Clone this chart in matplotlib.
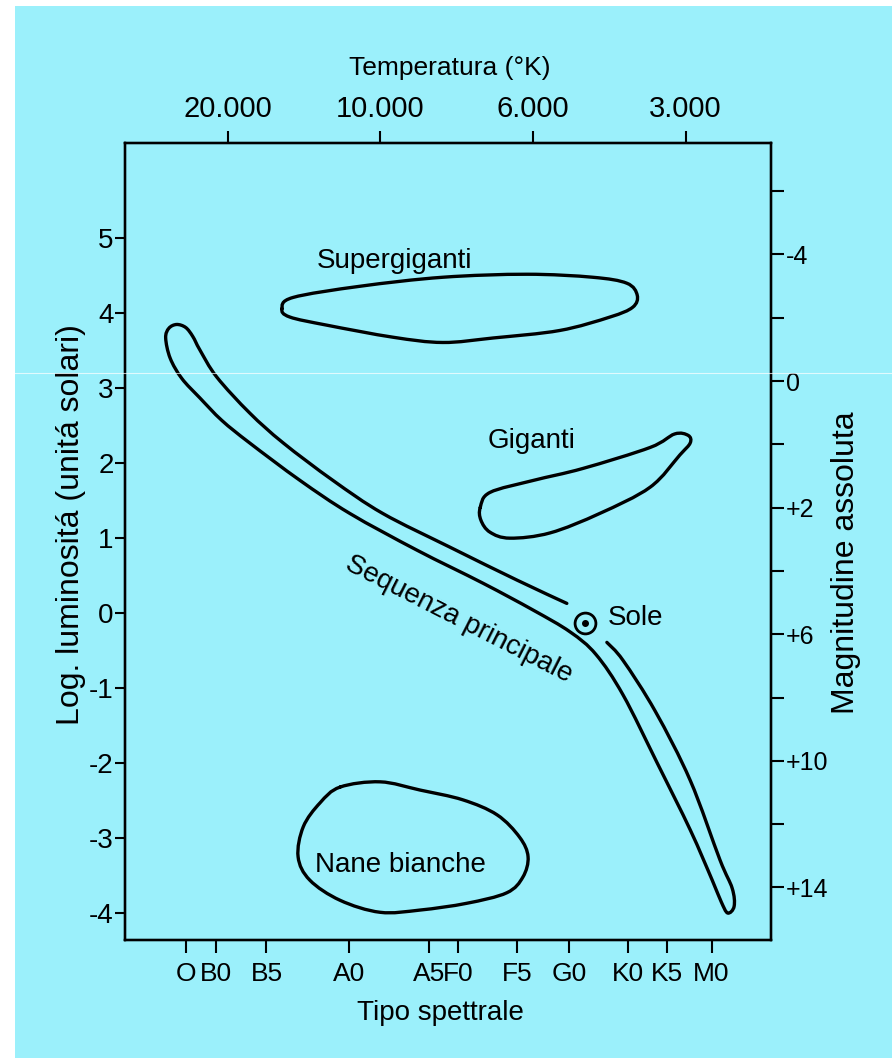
import numpy as np
import matplotlib.pyplot as plt
from matplotlib.path import Path
from matplotlib.patches import PathPatch, Rectangle
from matplotlib.lines import Line2D

plt.rcParams['font.family'] = ['Liberation Sans', 'DejaVu Sans']

# axes: x = position along the spectral sequence (0..10), y = log L (solar units)
spec_labels = ['O', 'B0', 'B5', 'A0', 'A5', 'F0', 'F5', 'G0', 'K0', 'K5', 'M0']
spec_pos = [0.94, 1.41, 2.19, 3.47, 4.71, 5.16, 6.07, 6.88, 7.78, 8.39, 9.08]

temp_labels = ['20.000', '10.000', '6.000', '3.000']
temp_pos = [1.59, 3.95, 6.32, 8.68]

lum_ticks = [5, 4, 3, 2, 1, 0, -1, -2, -3, -4]
lum_labels = ['5', '4', '3', '2', '1', '0', '-1', '-2', '-3', '-4']

# right axis (absolute magnitude), drawn on its own uniform scale
mag_major = [-4, 0, 4, 8, 12, 16]
mag_labels = ['-4', '0', '+2', '+6', '+10', '+14']
mag_minor = [-6, -2, 2, 6, 10, 14]

# outlines
super_x = [2.43, 2.60, 3.64, 4.92, 6.22, 7.24, 7.77, 7.93, 7.86, 7.51, 6.73, 5.70, 4.92, 4.15, 3.13, 2.55]
super_y = [4.06, 4.21, 4.36, 4.48, 4.52, 4.48, 4.40, 4.24, 4.08, 3.95, 3.77, 3.67, 3.61, 3.68, 3.84, 3.95]

giant_x = [5.50, 5.65, 6.32, 7.09, 8.13, 8.51, 8.72, 8.75, 8.59, 8.13, 7.35, 6.58, 5.96, 5.65, 5.51]
giant_y = [1.41, 1.61, 1.77, 1.93, 2.21, 2.39, 2.37, 2.27, 2.11, 1.68, 1.33, 1.07, 1.00, 1.08, 1.24]

dwarf_x = [3.33, 3.95, 4.57, 5.23, 5.76, 6.11, 6.24, 6.16, 5.91, 5.29, 4.57, 3.95, 3.33, 2.86, 2.68, 2.76, 3.02]
dwarf_y = [-2.32, -2.25, -2.36, -2.49, -2.69, -2.99, -3.25, -3.52, -3.73, -3.87, -3.96, -3.99, -3.83, -3.56, -3.25, -2.85, -2.53]

ms_x = [6.84, 6.07, 5.03, 3.99, 3.22, 2.45, 1.93, 1.42, 1.16, 1.05, 0.94, 0.80, 0.68, 0.63, 0.70,
        0.88, 1.16, 1.50, 1.93, 2.71, 3.48, 4.52, 5.54, 6.32, 6.89, 7.29, 7.71, 8.24, 8.75, 9.09, 9.23,
        9.33, 9.43, 9.40, 9.21, 8.75, 8.21, 7.71, 7.46]
ms_y = [0.13, 0.44, 0.88, 1.33, 1.77, 2.27, 2.67, 3.15, 3.51, 3.69, 3.81, 3.85, 3.80, 3.67, 3.40,
        3.13, 2.87, 2.57, 2.27, 1.77, 1.33, 0.84, 0.40, 0.04, -0.25, -0.55, -1.09, -2.00, -2.89, -3.56, -3.85,
        -4.00, -3.91, -3.67, -3.29, -2.23, -1.31, -0.63, -0.39]

sun_x, sun_y = 7.12, -0.13

BG = '#9bf0fb'


def smooth(xs, ys, closed):
    # catmull-rom through the read points, handed to matplotlib as bezier curves
    p = np.column_stack([xs, ys])
    n = len(p)
    if closed:
        get = lambda i: p[i % n]
        nseg = n
    else:
        get = lambda i: p[min(max(i, 0), n - 1)]
        nseg = n - 1
    verts = [p[0]]
    codes = [Path.MOVETO]
    for i in range(nseg):
        p0, p1, p2, p3 = get(i - 1), get(i), get(i + 1), get(i + 2)
        verts += [p1 + (p2 - p0) / 6, p2 - (p3 - p1) / 6, p2]
        codes += [Path.CURVE4] * 3
    return Path(verts, codes)


fig = plt.figure(figsize=(8.92, 10.58), dpi=100)
fig.patch.set_facecolor('white')
fig.add_artist(Rectangle((15 / 892, 0), 1, 1052 / 1058, transform=fig.transFigure,
                         facecolor=BG, edgecolor='none', zorder=-5))

ax = fig.add_axes([0.1401, 0.1115, 0.7242, 0.7533])
ax.set_facecolor('none')
ax.set_xlim(0, 10)
ax.set_ylim(-4.36, 6.27)

for xs, ys, closed in [(super_x, super_y, True), (giant_x, giant_y, True),
                       (dwarf_x, dwarf_y, True), (ms_x, ms_y, False)]:
    ax.add_patch(PathPatch(smooth(xs, ys, closed), facecolor='none', edgecolor='black',
                           lw=2.4, capstyle='round', joinstyle='round'))

ax.plot([sun_x], [sun_y], 'o', ms=15, mfc='none', mec='black', mew=2)
ax.plot([sun_x], [sun_y], 'o', ms=4, color='black')

ax.text(4.17, 4.61, 'Supergiganti', fontsize=20, ha='center', va='baseline')
ax.text(6.29, 2.20, 'Giganti', fontsize=20, ha='center', va='baseline')
ax.text(4.26, -3.45, 'Nane bianche', fontsize=20, ha='center', va='baseline')
ax.text(7.48, -0.16, 'Sole', fontsize=20, ha='left', va='baseline')
ax.text(5.16, -0.08, 'Sequenza principale', fontsize=20, ha='center', va='center',
        rotation=-27, rotation_mode='anchor')

for s in ax.spines.values():
    s.set_linewidth(1.6)

ax.set_xticks(spec_pos)
ax.set_xticklabels(spec_labels, fontsize=19)
ax.tick_params(axis='x', direction='out', length=9.5, width=1.5, pad=6)
ax.set_yticks(lum_ticks)
ax.set_yticklabels(lum_labels, fontsize=20)
ax.tick_params(axis='y', direction='out', length=7, width=1.5, pad=1)
ax.set_xlabel('Tipo spettrale', fontsize=20)
ax.xaxis.set_label_coords(0.489, -0.0916)
ax.xaxis.label.set_va('center')
ax.set_ylabel('Log. luminositá (unitá solari)', fontsize=23)
ax.yaxis.set_label_coords(-0.0836, 0.521)
ax.yaxis.label.set_va('center')

ax2 = ax.twinx()
ax2.set_ylim(17.66, -7.52)
ax2.set_yticks(mag_major)
ax2.set_yticklabels(mag_labels, fontsize=18)
ax2.set_yticks(mag_minor, minor=True)
ax2.tick_params(axis='y', which='both', direction='out', length=9, width=1.5, pad=1.5)
ax2.set_ylabel('Magnitudine assoluta', fontsize=23)
ax2.yaxis.set_label_coords(1.116, 0.473)
ax2.yaxis.label.set_va('center')
for s in ax2.spines.values():
    s.set_linewidth(1.6)

ax3 = ax.twiny()
ax3.set_xlim(ax.get_xlim())
ax3.set_xticks(temp_pos)
ax3.set_xticklabels(temp_labels, fontsize=21)
ax3.tick_params(axis='x', direction='out', length=8.5, width=1.5, pad=6)
ax3.set_xlabel('Temperatura (°K)', fontsize=19)
ax3.xaxis.set_label_coords(0.503, 1.094)
ax3.xaxis.label.set_va('center')
for s in ax3.spines.values():
    s.set_linewidth(1.6)

# faint scan streak across the page
fig.add_artist(Line2D([0, 1], [1 - 373 / 1058] * 2, transform=fig.transFigure,
                      color='white', lw=0.8, alpha=0.7, zorder=20))

fig.savefig('out.png', dpi=100, facecolor=fig.get_facecolor())
